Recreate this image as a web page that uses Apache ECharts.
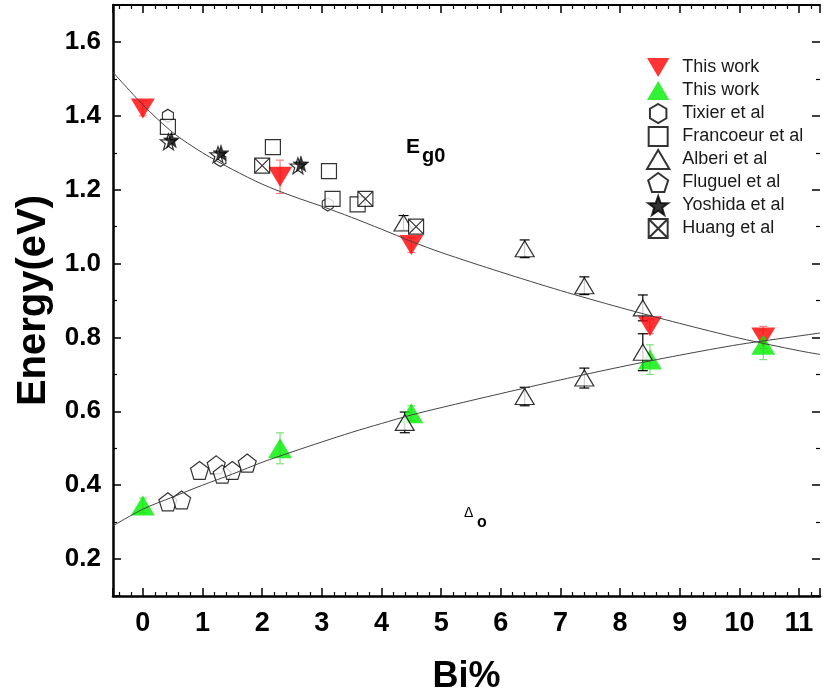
<!DOCTYPE html>
<html><head><meta charset="utf-8">
<script src="https://cdn.jsdelivr.net/npm/echarts@6/dist/echarts.min.js"></script>
<style>html,body{margin:0;padding:0;background:#fff}#c{width:823px;height:700px}</style>
</head><body><div id="c"></div>
<script>
// ---- tick labels ----
const xTickLabels = ['0','1','2','3','4','5','6','7','8','9','10','11'];
const yTickLabels = ['0.2','0.4','0.6','0.8','1.0','1.2','1.4','1.6'];

// ---- data ----
const thisWorkEgX = [0, 2.3, 4.5, 8.5, 10.4];
const thisWorkEgY = [1.42, 1.235, 1.05, 0.83, 0.80];
const thisWorkEgErr = [0.02, 0.045, 0.02, 0.02, 0.03];
const thisWorkDoX = [0, 2.3, 4.5, 8.5, 10.4];
const thisWorkDoY = [0.345, 0.50, 0.595, 0.74, 0.78];
const thisWorkDoErr = [0.02, 0.042, 0.02, 0.04, 0.04];
const tixierX = [0.42, 1.3, 3.1];
const tixierY = [1.40, 1.28, 1.16];
const francoeurX = [0.42, 2.18, 3.12, 3.18, 3.6];
const francoeurY = [1.37, 1.315, 1.25, 1.175, 1.16];
const alberiX = [4.37, 6.4, 7.4, 8.38, 8.38, 7.4, 6.4, 4.39];
const alberiY = [1.11, 1.04, 0.94, 0.88, 0.76, 0.69, 0.64, 0.57];
const alberiErr = [0.02, 0.024, 0.024, 0.035, 0.05, 0.027, 0.025, 0.028];
const fluguelX = [0.42, 0.65, 0.95, 1.23, 1.33, 1.5, 1.75];
const fluguelY = [0.355, 0.36, 0.44, 0.455, 0.43, 0.44, 0.46];
const yoshidaX = [0.48, 1.31, 2.65];
const yoshidaY = [1.335, 1.30, 1.27];
const huangX = [2.0, 3.73, 4.58];
const huangY = [1.265, 1.175, 1.10];
// fitted curves
const fitX = [-0.5, 0, 0.5, 1, 1.5, 2, 2.5, 3, 3.5, 4, 4.5, 5, 6, 7, 8, 9, 10, 11, 11.35];
const fitEgY = [1.518, 1.43, 1.355, 1.30, 1.255, 1.215, 1.183, 1.155, 1.125, 1.093, 1.06, 1.03, 0.977, 0.927, 0.881, 0.838, 0.798, 0.764, 0.754];
const fitDoY = [0.29, 0.335, 0.368, 0.40, 0.43, 0.462, 0.49, 0.517, 0.543, 0.567, 0.59, 0.61, 0.648, 0.685, 0.72, 0.752, 0.781, 0.804, 0.812];

const zip = (xs, ys) => xs.map((x, i) => [x, ys[i]]);

const SYM = {
  down: 'path://M0,0L20,0L10,17Z',
  up: 'path://M10,0L20,17L0,17Z',
  hex: 'path://M8.66,0L17.32,5L17.32,15L8.66,20L0,15L0,5Z',
  square: 'path://M0,0L20,0L20,20L0,20Z',
  pent: 'path://M10,0L19.51,6.91L15.88,18.09L4.12,18.09L0.49,6.91Z',
  star: 'path://M10,0L12.35,6.76L19.51,6.91L13.8,11.24L15.88,18.09L10,14L4.12,18.09L6.2,11.24L0.49,6.91L7.65,6.76Z',
  xsquare: 'path://M0,0L20,0L20,20L0,20Z M0,0L20,20 M20,0L0,20'
};

function errSeries(name, xs, ys, errs, color, cap) {
  return {
    name, type: 'custom', silent: true,
    encode: { x: 0, y: [1, 2] },
    data: xs.map((x, i) => [x, ys[i] - errs[i], ys[i] + errs[i]]),
    renderItem(params, api) {
      const p1 = api.coord([api.value(0), api.value(1)]);
      const p2 = api.coord([api.value(0), api.value(2)]);
      const st = { stroke: color, lineWidth: 1.2 };
      return { type: 'group', children: [
        { type: 'line', shape: { x1: p1[0], y1: p1[1], x2: p2[0], y2: p2[1] }, style: st },
        { type: 'line', shape: { x1: p1[0] - cap, y1: p1[1], x2: p1[0] + cap, y2: p1[1] }, style: st },
        { type: 'line', shape: { x1: p2[0] - cap, y1: p2[1], x2: p2[0] + cap, y2: p2[1] }, style: st }
      ]};
    }
  };
}

const openStyle = { color: '#fff', borderColor: '#000', borderWidth: 1.2 };
const FONT = "'Liberation Sans', Arial, sans-serif";

const axisCommonX = {
  type: 'value', min: -0.5, max: 11.35, minInterval: 1, maxInterval: 1,
  splitLine: { show: false },
  axisLine: { onZero: false, lineStyle: { color: '#000', width: 2.5 } },
  axisTick: { inside: true, length: 8, lineStyle: { color: '#000', width: 1.5 } },
  minorTick: { show: true, splitNumber: 5, length: 4, lineStyle: { color: '#000', width: 1.2 } }
};
const axisCommonY = {
  type: 'value', min: 0.1, max: 1.7, minInterval: 0.2, maxInterval: 0.2,
  splitLine: { show: false },
  axisLine: { onZero: false, lineStyle: { color: '#000', width: 2.5 } },
  axisTick: { inside: true, length: 8, lineStyle: { color: '#000', width: 1.5 } },
  minorTick: { show: true, splitNumber: 2, length: 4, lineStyle: { color: '#000', width: 1.2 } }
};

const chart = echarts.init(document.getElementById('c'));
chart.setOption({
  animation: false,
  backgroundColor: '#fff',
  grid: { left: 113, top: 5, right: 0, bottom: 98 },
  xAxis: [
    Object.assign({}, axisCommonX, {
      position: 'bottom',
      name: 'Bi%', nameLocation: 'middle', nameGap: 63,
      nameTextStyle: { fontFamily: FONT, fontWeight: 'bold', fontSize: 36, color: '#000' },
      axisLabel: { margin: 14, fontFamily: FONT, fontWeight: 'bold', fontSize: 27, color: '#000',
        formatter: v => { const s = String(Math.round(v)); return (Math.abs(v - Math.round(v)) < 1e-6 && xTickLabels.includes(s)) ? s : ''; } }
    }),
    Object.assign({}, axisCommonX, { position: 'top', axisLabel: { show: false },
      axisLine: { onZero: false, lineStyle: { color: '#000', width: 2 } } })
  ],
  yAxis: [
    Object.assign({}, axisCommonY, {
      position: 'left',
      name: 'Energy(eV)', nameLocation: 'middle', nameGap: 53,
      nameTextStyle: { fontFamily: FONT, fontWeight: 'bold', fontSize: 40, color: '#000' },
      axisLabel: { margin: 12, fontFamily: FONT, fontWeight: 'bold', fontSize: 26, color: '#000',
        formatter: v => { const s = v.toFixed(1); return yTickLabels.includes(s) ? s : ''; } }
    }),
    Object.assign({}, axisCommonY, { position: 'right', axisLabel: { show: false },
      axisLine: { show: false, onZero: false } })
  ],
  legend: {
    orient: 'vertical', left: 641, top: 52,
    itemWidth: 38, itemHeight: 19, itemGap: 2,
    data: ['This work (Eg0)', 'This work (Do)', 'Tixier et al', 'Francoeur et al', 'Alberi et al', 'Fluguel et al', 'Yoshida et al', 'Huang et al'],
    formatter: n => n.startsWith('This work') ? 'This work' : n,
    textStyle: { fontFamily: FONT, fontSize: 18, lineHeight: 21, color: '#1a1a1a' }
  },
  graphic: [
    { type: 'text', x: 406, y: 137, style: { text: 'E', fontFamily: FONT, fontWeight: 'bold', fontSize: 21, fill: '#000', verticalAlign: 'top' } },
    { type: 'text', x: 422, y: 146, style: { text: 'g0', fontFamily: FONT, fontWeight: 'bold', fontSize: 20, fill: '#000', verticalAlign: 'top' } },
    { type: 'text', x: 464, y: 506, style: { text: 'Δ', fontFamily: FONT, fontSize: 14, fill: '#000', verticalAlign: 'top' } },
    { type: 'text', x: 477, y: 515, style: { text: 'o', fontFamily: FONT, fontWeight: 'bold', fontSize: 16, fill: '#000', verticalAlign: 'top' } }
  ],
  series: [
    errSeries('errEg', thisWorkEgX, thisWorkEgY, thisWorkEgErr, '#ff8080', 4),
    errSeries('errDo', thisWorkDoX, thisWorkDoY, thisWorkDoErr, '#80e080', 4),
    { name: 'This work (Eg0)', type: 'scatter', symbol: SYM.down, symbolSize: [24, 20],
      itemStyle: { color: '#ff0000' }, data: zip(thisWorkEgX, thisWorkEgY) },
    { name: 'This work (Do)', type: 'scatter', symbol: SYM.up, symbolSize: [24, 20],
      itemStyle: { color: '#00ee00' }, data: zip(thisWorkDoX, thisWorkDoY) },
    { name: 'Tixier et al', type: 'scatter', symbol: SYM.hex, symbolSize: [11, 13],
      itemStyle: openStyle, data: zip(tixierX, tixierY) },
    { name: 'Francoeur et al', type: 'scatter', symbol: SYM.square, symbolSize: 15,
      itemStyle: openStyle, data: zip(francoeurX, francoeurY) },
    errSeries('errAlberi', alberiX, alberiY, alberiErr, '#000', 5),
    { name: 'Alberi et al', type: 'scatter', symbol: SYM.up, symbolSize: [19, 16],
      itemStyle: openStyle, data: zip(alberiX, alberiY) },
    { name: 'Fluguel et al', type: 'scatter', symbol: SYM.pent, symbolSize: 18,
      itemStyle: openStyle, data: zip(fluguelX, fluguelY) },
    { name: 'Yoshida outline', type: 'scatter', symbol: SYM.star, symbolSize: 16, symbolOffset: [-3, 2],
      itemStyle: openStyle, data: zip(yoshidaX, yoshidaY) },
    { name: 'Yoshida et al', type: 'scatter', symbol: SYM.star, symbolSize: 16,
      itemStyle: { color: '#000', borderColor: '#000', borderWidth: 0.5 }, data: zip(yoshidaX, yoshidaY) },
    { name: 'Huang et al', type: 'scatter', symbol: SYM.xsquare, symbolSize: 15,
      itemStyle: openStyle, data: zip(huangX, huangY) },
    { name: 'fitEg', type: 'line', smooth: 0.3, showSymbol: false, silent: true,
      lineStyle: { color: '#444', width: 1 }, data: zip(fitX, fitEgY) },
    { name: 'fitDo', type: 'line', smooth: 0.3, showSymbol: false, silent: true,
      lineStyle: { color: '#444', width: 1 }, data: zip(fitX, fitDoY) }
  ]
});
</script>
</body></html>
